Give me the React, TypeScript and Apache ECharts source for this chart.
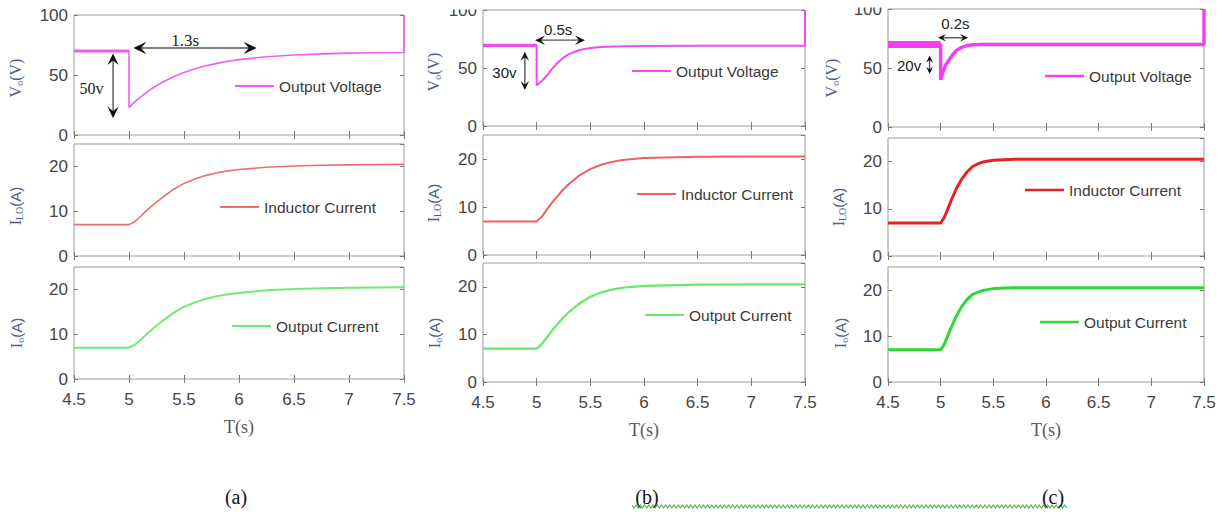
import React, { useEffect, useRef } from "react";
import * as echarts from "echarts";

// ---------------- data ----------------
const X_MIN = 4.5;
const X_MAX = 7.5;
const X_STEP = 0.5;
const V_MAX = 100;
const V_STEP = 50;
const I_MAX = 25;
const I_STEP = 10;

const PANEL_TAGS = ["(a)", "(b)", "(c)"];
const X_TITLE = "T(s)";
const LEGEND_V = "Output Voltage";
const LEGEND_IL = "Inductor Current";
const LEGEND_IO = "Output Current";

// panel (a)
const A_V_T = [4.5, 5, 5, 5.05, 5.1, 5.2, 5.3, 5.4, 5.5, 5.6, 5.7, 5.8, 5.9, 6, 6.25, 6.5, 6.75, 7, 7.25, 7.5, 7.5];
const A_V = [70, 70, 23, 27.4, 31.3, 38.2, 43.7, 48.3, 52.1, 55.2, 57.7, 59.7, 61.4, 62.8, 65.2, 66.7, 67.6, 68.2, 68.5, 68.7, 100];
const A_VPRE_T = [4.5, 5];
const A_VPRE = [70, 70];
const A_I_T = [4.5, 5, 5.05, 5.1, 5.15, 5.2, 5.3, 5.4, 5.5, 5.6, 5.7, 5.8, 5.9, 6, 6.25, 6.5, 6.75, 7, 7.5];
const A_IL = [7, 7, 7.6, 8.7, 9.9, 11.0, 13.0, 14.8, 16.2, 17.2, 18.0, 18.6, 19.0, 19.3, 19.8, 20.1, 20.25, 20.35, 20.45];
const A_IO = [7, 7, 7.6, 8.6, 9.8, 10.9, 12.9, 14.7, 16.1, 17.1, 17.9, 18.5, 18.9, 19.2, 19.8, 20.1, 20.25, 20.35, 20.5];

// panel (b)
const B_V_T = [4.5, 5, 5, 5.05, 5.1, 5.15, 5.2, 5.25, 5.3, 5.4, 5.5, 5.6, 5.8, 6, 6.5, 7, 7.5, 7.5];
const B_V = [69.5, 69.5, 35, 39, 44, 50, 55, 59, 62, 65.5, 67.3, 68.2, 68.8, 69, 69.1, 69.1, 69.1, 100];
const B_VPRE_T = [4.5, 5];
const B_VPRE = [69.5, 69.5];
const B_I_T = [4.5, 5, 5.05, 5.1, 5.15, 5.2, 5.25, 5.3, 5.4, 5.5, 5.6, 5.7, 5.8, 6, 6.5, 7, 7.5];
const B_IL = [7, 7, 8.0, 9.6, 11.1, 12.4, 13.7, 14.8, 16.6, 17.9, 18.8, 19.4, 19.8, 20.2, 20.45, 20.5, 20.5];
const B_IO = [7, 7, 8.0, 9.5, 11.0, 12.3, 13.6, 14.7, 16.5, 17.9, 18.8, 19.4, 19.8, 20.2, 20.45, 20.5, 20.5];

// panel (c)
const C_V_T = [4.5, 5, 5, 5.02, 5.05, 5.09, 5.12, 5.15, 5.2, 5.25, 5.3, 5.4, 6, 7, 7.5, 7.5];
const C_V = [70, 70, 40, 46, 53, 58, 62, 65, 67.5, 69, 69.6, 70, 70, 70, 70, 100];
const C_VPRE_T = [4.5, 5];
const C_VPRE = [70, 70];
const C_I_T = [4.5, 5, 5.03, 5.06, 5.1, 5.15, 5.2, 5.25, 5.3, 5.35, 5.4, 5.5, 5.7, 6, 7, 7.5];
const C_IL = [7, 7, 8, 9.5, 11.8, 14.3, 16.3, 17.8, 18.9, 19.5, 19.9, 20.3, 20.5, 20.5, 20.5, 20.5];
const C_IO = [7, 7, 8, 9.6, 11.9, 14.4, 16.4, 17.9, 19.0, 19.5, 19.9, 20.3, 20.5, 20.5, 20.5, 20.5];

// annotations
const ANNOT_TEXT_H = ["1.3s", "0.5s", "0.2s"];
const ANNOT_TEXT_V = ["50v", "30v", "20v"];

// ---------------- layout / style ----------------
const GRIDS = [
  [74, 15, 330, 120], [74, 144, 330, 112], [74, 267, 330, 112],
  [483, 10, 322, 116], [483, 135, 322, 120], [483, 263, 322, 119],
  [888, 9, 316, 118], [888, 138, 316, 118], [888, 267, 316, 115],
];
const YTITLE_POS = [
  [15, 78], [15, 206], [16, 333],
  [433, 72], [433, 203], [434, 333],
  [831, 78], [838, 207], [840, 333],
];
const LEGEND_POS = [
  [235, 87], [220, 208], [232, 327],
  [632, 72], [637, 195], [645, 316],
  [1045, 77], [1025, 191], [1040, 323],
];
const TAG_POS = [[236, 497], [647, 497], [1053, 497]];
const ANNOT_GEOM = [
  { h: [5.04, 6.16, 72.5], ht: [5.51, 79], v: [4.855, 68, 14], vt: [4.66, 39], head: 13, serif: true },
  { h: [4.985, 5.45, 74], ht: [5.2, 83], v: [4.89, 64, 31], vt: [4.7, 46], head: 10, serif: false },
  { h: [4.975, 5.26, 75.6], ht: [5.14, 87.5], v: [4.895, 60.5, 45], vt: [4.7, 52], head: 8, serif: false },
];
const V_STYLE = [
  { color: "#f25cf2", w: 1.6, preW: 3.2 },
  { color: "#f04cf0", w: 2, preW: 3.2 },
  { color: "#f040f0", w: 3.5, preW: 7 },
];
const IL_STYLE = [
  { color: "#ec6f6f", w: 1.6 },
  { color: "#ec6262", w: 2 },
  { color: "#e52222", w: 3 },
];
const IO_STYLE = [
  { color: "#70ea70", w: 2 },
  { color: "#66ea66", w: 2.2 },
  { color: "#30d830", w: 3 },
];

const SANS = "'Liberation Sans', Arial, sans-serif";
const SERIF = "'Liberation Serif', 'Times New Roman', serif";

const zip = (t: number[], v: number[]) => t.map((x, i) => [x, v[i]]);

const PANEL_DATA = [
  { v: zip(A_V_T, A_V), pre: zip(A_VPRE_T, A_VPRE), il: zip(A_I_T, A_IL), io: zip(A_I_T, A_IO) },
  { v: zip(B_V_T, B_V), pre: zip(B_VPRE_T, B_VPRE), il: zip(B_I_T, B_IL), io: zip(B_I_T, B_IO) },
  { v: zip(C_V_T, C_V), pre: zip(C_VPRE_T, C_VPRE), il: zip(C_I_T, C_IL), io: zip(C_I_T, C_IO) },
];

function buildOption() {
  const grid: any[] = [];
  const xAxis: any[] = [];
  const yAxis: any[] = [];
  const series: any[] = [];
  const legend: any[] = [];
  const nameMap: Record<string, string> = {};
  const keys = ["a", "b", "c"];
  const tick = { show: true, inside: true, length: 4, lineStyle: { color: "#7a7a7a" } };

  GRIDS.forEach((g) => {
    grid.push({
      left: g[0], top: g[1], width: g[2], height: g[3],
      show: true, borderColor: "#9a9a9a", borderWidth: 1, backgroundColor: "#fff",
    });
  });
  GRIDS.forEach((g, i) => {
    const isBottom = i % 3 === 2;
    xAxis.push({
      type: "value", gridIndex: i, position: "bottom", min: X_MIN, max: X_MAX, interval: X_STEP,
      axisLine: { show: false }, splitLine: { show: false }, axisTick: tick,
      axisLabel: { show: isBottom, margin: 12, fontSize: 17, color: "#454545", fontFamily: SANS },
      name: isBottom ? X_TITLE : "", nameLocation: "middle", nameGap: 39,
      nameTextStyle: { fontFamily: SERIF, fontSize: 18, color: "#585858" },
    });
  });
  GRIDS.forEach((g, i) => {
    xAxis.push({
      type: "value", gridIndex: i, position: "top", min: X_MIN, max: X_MAX, interval: X_STEP,
      axisLine: { show: false }, splitLine: { show: false }, axisTick: tick,
      axisLabel: { show: false },
    });
  });
  GRIDS.forEach((g, i) => {
    const isV = i % 3 === 0;
    yAxis.push({
      type: "value", gridIndex: i, position: "left", min: 0,
      max: isV ? V_MAX : I_MAX, interval: isV ? V_STEP : I_STEP,
      axisLine: { show: false }, splitLine: { show: false }, axisTick: tick,
      axisLabel: { show: true, margin: 6, fontSize: 17, color: "#454545", fontFamily: SANS, showMaxLabel: isV },
    });
  });
  GRIDS.forEach((g, i) => {
    const isV = i % 3 === 0;
    yAxis.push({
      type: "value", gridIndex: i, position: "right", min: 0,
      max: isV ? V_MAX : I_MAX, interval: isV ? V_STEP : I_STEP,
      axisLine: { show: false }, splitLine: { show: false }, axisTick: tick,
      axisLabel: { show: false },
    });
  });

  PANEL_DATA.forEach((pd, p) => {
    const k = keys[p];
    const g0 = p * 3;
    const base = { type: "line", symbol: "none", showSymbol: false, silent: true, z: 3 };
    series.push({
      ...base, name: `V_${k}`, xAxisIndex: g0, yAxisIndex: g0, data: pd.v,
      color: V_STYLE[p].color, lineStyle: { color: V_STYLE[p].color, width: V_STYLE[p].w },
    });
    series.push({
      ...base, name: `Vpre_${k}`, xAxisIndex: g0, yAxisIndex: g0, data: pd.pre,
      color: V_STYLE[p].color, lineStyle: { color: V_STYLE[p].color, width: V_STYLE[p].preW },
    });
    series.push({
      ...base, name: `IL_${k}`, xAxisIndex: g0 + 1, yAxisIndex: g0 + 1, data: pd.il,
      color: IL_STYLE[p].color, lineStyle: { color: IL_STYLE[p].color, width: IL_STYLE[p].w, join: "round" },
    });
    series.push({
      ...base, name: `IO_${k}`, xAxisIndex: g0 + 2, yAxisIndex: g0 + 2, data: pd.io,
      color: IO_STYLE[p].color, lineStyle: { color: IO_STYLE[p].color, width: IO_STYLE[p].w, join: "round" },
    });
    nameMap[`V_${k}`] = LEGEND_V;
    nameMap[`IL_${k}`] = LEGEND_IL;
    nameMap[`IO_${k}`] = LEGEND_IO;
    [`V_${k}`, `IL_${k}`, `IO_${k}`].forEach((nm, j) => {
      const pos = LEGEND_POS[g0 + j];
      legend.push({
        data: [nm], left: pos[0], top: pos[1] - 9, padding: 0,
        icon: "rect", itemWidth: 39, itemHeight: p === 2 ? 2.5 : 2,
        selectedMode: false,
        formatter: (n: string) => nameMap[n],
        textStyle: { fontSize: 15.5, color: "#3a3a3a", fontFamily: SANS },
      });
    });
  });

  return {
    animation: false,
    backgroundColor: "#ffffff",
    grid, xAxis, yAxis, series, legend,
  };
}

function arrowEls(p1: number[], p2: number[], L: number): any[] {
  const dx = p2[0] - p1[0];
  const dy = p2[1] - p1[1];
  const len = Math.hypot(dx, dy) || 1;
  const ux = dx / len, uy = dy / len;
  const nx = -uy, ny = ux;
  const W = L * 0.95;
  const head = (tx: number, ty: number, dx1: number, dy1: number) => ({
    type: "polygon", z: 20, silent: true,
    shape: {
      points: [
        [tx, ty],
        [tx - dx1 * L + nx * W / 2, ty - dy1 * L + ny * W / 2],
        [tx - dx1 * L * 0.6, ty - dy1 * L * 0.6],
        [tx - dx1 * L - nx * W / 2, ty - dy1 * L - ny * W / 2],
      ],
    },
    style: { fill: "#111" },
  });
  return [
    {
      type: "line", z: 19, silent: true,
      shape: { x1: p1[0] + ux * L * 0.5, y1: p1[1] + uy * L * 0.5, x2: p2[0] - ux * L * 0.5, y2: p2[1] - uy * L * 0.5 },
      style: { stroke: "#555", lineWidth: 1.4 },
    },
    head(p2[0], p2[1], ux, uy),
    head(p1[0], p1[1], -ux, -uy),
  ];
}

function buildGraphics(chart: any): any[] {
  const els: any[] = [];
  const yTitles = ["{v|V}{s|o}{v|(V)}", "{v|I}{s|LO}{a|(A)}", "{v|I}{s|o}{a|(A)}"];
  YTITLE_POS.forEach((pos, i) => {
    els.push({
      type: "text", x: pos[0], y: pos[1], rotation: Math.PI / 2, z: 10, silent: true,
      style: {
        text: yTitles[i % 3],
        align: "center", verticalAlign: "middle", fill: "#4d5f86",
        rich: {
          v: { fontFamily: SERIF, fontSize: 16, lineHeight: 18, verticalAlign: "middle", fill: "#4d5f86" },
          a: { fontFamily: SANS, fontSize: 15, lineHeight: 18, verticalAlign: "middle", fill: "#4d5f86" },
          s: { fontFamily: SERIF, fontSize: 10, lineHeight: 7, verticalAlign: "bottom", fill: "#4d5f86" },
        },
      },
    });
  });

  TAG_POS.forEach((pos, i) => {
    els.push({
      type: "text", x: pos[0], y: pos[1], z: 10, silent: true,
      style: { text: PANEL_TAGS[i], align: "center", verticalAlign: "middle", fill: "#151515", font: `20px ${SERIF}` },
    });
  });

  // cropped tops of the (b) and (c) figures
  els.push({ type: "rect", z: 30, silent: true, shape: { x: 425, y: 0, width: 56, height: 9.5 }, style: { fill: "#fff" } });
  els.push({ type: "rect", z: 30, silent: true, shape: { x: 835, y: 0, width: 51, height: 7.5 }, style: { fill: "#fff" } });

  // spell-check squiggle under (b) ... (c)
  const pts: number[][] = [];
  for (let x = 632, k = 0; x <= 1068; x += 2.1, k++) pts.push([x, k % 2 === 0 ? 505 : 508]);
  els.push({ type: "polyline", z: 5, silent: true, shape: { points: pts }, style: { stroke: "#58b158", lineWidth: 1.2, fill: null } });

  ANNOT_GEOM.forEach((a, p) => {
    const gi = p * 3;
    const cv = (x: number, y: number) => chart.convertToPixel({ gridIndex: gi }, [x, y]);
    const h1 = cv(a.h[0], a.h[2]);
    const h2 = cv(a.h[1], a.h[2]);
    const v1 = cv(a.v[0], a.v[1]);
    const v2 = cv(a.v[0], a.v[2]);
    els.push(...arrowEls(h1, h2, a.head));
    els.push(...arrowEls(v1, v2, a.head * 0.9));
    const fam = a.serif ? SERIF : SANS;
    const ht = cv(a.ht[0], a.ht[1]);
    const vt = cv(a.vt[0], a.vt[1]);
    els.push({
      type: "text", x: ht[0], y: ht[1], z: 21, silent: true,
      style: { text: ANNOT_TEXT_H[p], align: "center", verticalAlign: "middle", fill: "#222", font: `${a.serif ? 17 : 15}px ${fam}` },
    });
    els.push({
      type: "text", x: vt[0], y: vt[1], z: 21, silent: true,
      style: { text: ANNOT_TEXT_V[p], align: "center", verticalAlign: "middle", fill: "#222", font: `${a.serif ? 16 : 15}px ${fam}` },
    });
  });
  return els;
}

export default function App() {
  const ref = useRef<HTMLDivElement | null>(null);
  useEffect(() => {
    if (!ref.current) return;
    const chart = echarts.init(ref.current, null, { renderer: "svg" });
    chart.setOption(buildOption() as any);
    chart.setOption({ graphic: buildGraphics(chart) } as any);
    return () => chart.dispose();
  }, []);
  return (
    <div
      ref={ref}
      style={{ position: "absolute", left: 0, top: 0, width: 1225, height: 515, background: "#fff" }}
    />
  );
}
